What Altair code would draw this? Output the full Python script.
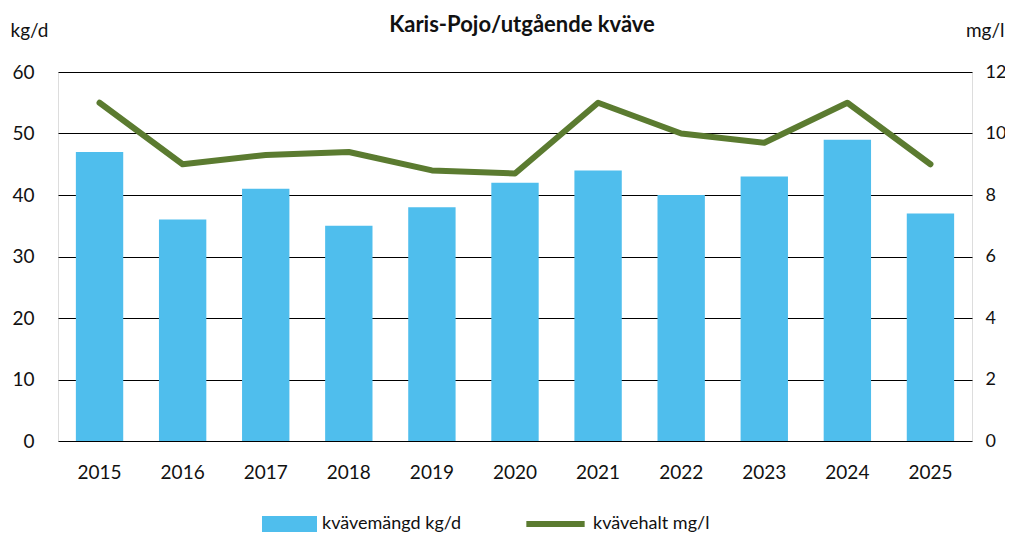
import altair as alt
import pandas as pd

years = ["2015", "2016", "2017", "2018", "2019", "2020", "2021", "2022", "2023", "2024", "2025"]
kg_per_day = [47, 36, 41, 35, 38, 42, 44, 40, 43, 49, 37]
mg_per_l = [11.0, 9.0, 9.3, 9.4, 8.8, 8.7, 11.0, 10.0, 9.7, 11.0, 9.0]
bar_series = "kvävemängd kg/d"
line_series = "kvävehalt mg/l"
left_ticks = [0, 10, 20, 30, 40, 50, 60]
right_ticks = [0, 2, 4, 6, 8, 10, 12]

df = pd.DataFrame({
    "year": years,
    "kg": kg_per_day,
    "mg": mg_per_l,
    "s_bar": [bar_series] * len(years),
    "s_line": [line_series] * len(years),
})

FONT = "Lato"
BLUE = "#4FBEED"
GREEN = "#5B7B30"

x = alt.X(
    "year:N", sort=years, title=None,
    scale=alt.Scale(paddingInner=0.43, paddingOuter=0.215),
    axis=alt.Axis(labelAngle=0, domain=False, ticks=False, labelPadding=22,
                  labelFontSize=19, labelFont=FONT, labelColor="#111"),
)

bars = alt.Chart(df).mark_bar().encode(
    x=x,
    y=alt.Y(
        "kg:Q", scale=alt.Scale(domain=[0, 60], nice=False),
        axis=alt.Axis(values=left_ticks, title="kg/d", titleAngle=0, titleX=-48, titleY=-42,
                      titleAlign="left", titleBaseline="middle", titleFontSize=19,
                      titleFontWeight="normal", titleFont=FONT, titleColor="#111",
                      grid=True, gridColor="#000", gridWidth=1, domain=False, ticks=False,
                      labelPadding=24, labelFontSize=19, labelFont=FONT, labelColor="#111"),
    ),
    fill=alt.Fill(
        "s_bar:N", scale=alt.Scale(domain=[bar_series], range=[BLUE]),
        legend=alt.Legend(title=None, orient="none", legendX=204, legendY=442,
                          symbolType="M-1,-0.29H1V0.29H-1Z", symbolSize=3025,
                          symbolStrokeWidth=0, symbolOpacity=1, clipHeight=20,
                          labelFontSize=18, labelFont=FONT, labelColor="#111", labelOffset=5),
    ),
)

line = alt.Chart(df).mark_line(strokeWidth=6, strokeJoin="round", strokeCap="round").encode(
    x=x,
    y=alt.Y(
        "mg:Q", scale=alt.Scale(domain=[0, 12], nice=False),
        axis=alt.Axis(values=right_ticks, orient="right", title="mg/l", titleAngle=0,
                      titleX=32, titleY=-42, titleAlign="right", titleBaseline="middle",
                      titleFontSize=19, titleFontWeight="normal", titleFont=FONT, titleColor="#111",
                      grid=False, domain=False, ticks=False, labelPadding=13,
                      labelFontSize=18, labelFont=FONT, labelColor="#111"),
    ),
    stroke=alt.Stroke(
        "s_line:N", scale=alt.Scale(domain=[line_series], range=[GREEN]),
        legend=alt.Legend(title=None, orient="none", legendX=465, legendY=442,
                          symbolType="stroke", symbolSize=3400, symbolStrokeWidth=6,
                          clipHeight=20, labelFontSize=18, labelFont=FONT,
                          labelColor="#111", labelOffset=5),
    ),
)

chart = alt.layer(bars, line).resolve_scale(y="independent").properties(
    width=914, height=369,
    title=alt.TitleParams("Karis-Pojo/utgående kväve", fontSize=22, fontWeight="bold",
                          font=FONT, anchor="middle", color="#111", offset=10, dy=26, dx=7),
    autosize=alt.AutoSizeParams(type="none"),
    padding={"left": 50, "top": 64, "right": 33, "bottom": 93},
).configure_view(stroke=None).configure(background="white")

chart.save("out.html", embed_options={"renderer": "svg", "actions": False})
